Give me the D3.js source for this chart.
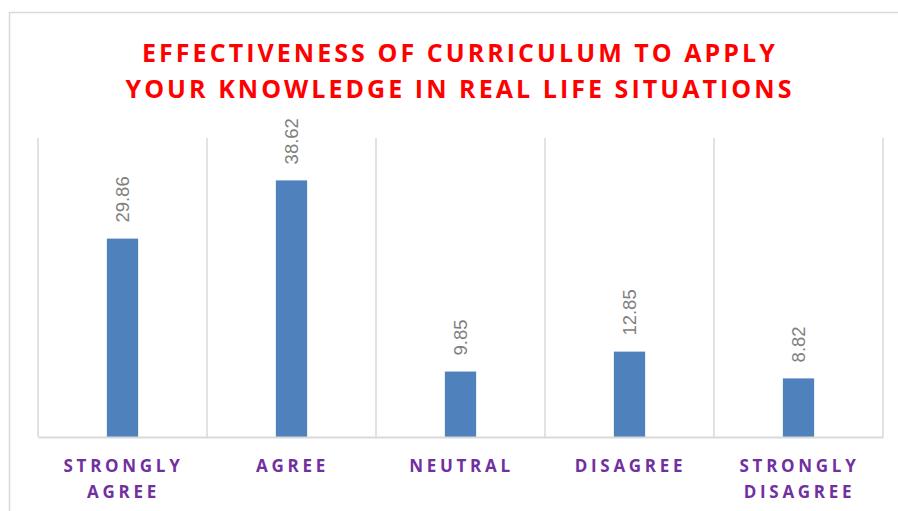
<!DOCTYPE html>
<html>
<head>
<meta charset="utf-8">
<script src="https://cdn.jsdelivr.net/npm/d3@7"></script>
<style>
  html, body { margin: 0; padding: 0; background: #fff; }
  svg { display: block; }
</style>
</head>
<body>
<svg id="chart" width="898" height="511"></svg>
<script>
// Survey responses (percent)
const categories = ["STRONGLY AGREE", "AGREE", "NEUTRAL", "DISAGREE", "STRONGLY DISAGREE"];
const categoryLines = [["STRONGLY", "AGREE"], ["AGREE"], ["NEUTRAL"], ["DISAGREE"], ["STRONGLY", "DISAGREE"]];
const values = [29.86, 38.62, 9.85, 12.85, 8.82];
const valueLabels = ["29.86", "38.62", "9.85", "12.85", "8.82"];
const titleLines = ["EFFECTIVENESS OF CURRICULUM TO APPLY", "YOUR KNOWLEDGE IN REAL LIFE SITUATIONS"];

const svg = d3.select("#chart");
const W = 898, H = 511;
const plot = { left: 38, right: 883, top: 138, bottom: 437 };

// Chart frame
svg.append("path")
  .attr("d", `M9.5,${H + 5} L9.5,12.5 L${W + 5},12.5`)
  .attr("fill", "none")
  .attr("stroke", "#d9d9d9")
  .attr("stroke-width", 1.5);

const x = d3.scaleBand().domain(categories).range([plot.left, plot.right]).paddingInner(0).paddingOuter(0);
const y = d3.scaleLinear().domain([0, 45]).range([plot.bottom, plot.top]);
const barW = x.bandwidth() * 0.185;

// Vertical gridlines at category boundaries
const bounds = categories.map(c => x(c)).concat([x(categories[categories.length - 1]) + x.bandwidth()]);
svg.append("g").selectAll("line").data(bounds).join("line")
  .attr("x1", d => d).attr("x2", d => d)
  .attr("y1", plot.top).attr("y2", plot.bottom)
  .attr("stroke", "#d9d9d9").attr("stroke-width", 1.5);

// Bars
svg.append("g").selectAll("rect").data(values).join("rect")
  .attr("x", (d, i) => x(categories[i]) + x.bandwidth() / 2 - barW / 2)
  .attr("width", barW)
  .attr("y", d => y(d))
  .attr("height", d => y(0) - y(d))
  .attr("fill", "#4f81bd");

// Category axis line
const xAxis = svg.append("g").attr("transform", `translate(0,${plot.bottom})`)
  .call(d3.axisBottom(x).tickSize(0).tickFormat(""));
xAxis.select(".domain").attr("stroke", "#d9d9d9").attr("stroke-width", 2);

// Value labels, rotated
svg.append("g").selectAll("text").data(values).join("text")
  .attr("transform", (d, i) => {
    const cx = x(categories[i]) + x.bandwidth() / 2 + 6.5;
    return `translate(${cx},${y(d) - 16}) rotate(-90)`;
  })
  .attr("text-anchor", "start")
  .attr("font-family", "'Liberation Sans', Arial, sans-serif")
  .attr("font-size", 18.5)
  .attr("fill", "#7f7f7f")
  .text((d, i) => valueLabels[i]);

// Category labels
const catG = svg.append("g");
categoryLines.forEach((lines, i) => {
  const cx = x(categories[i]) + x.bandwidth() / 2;
  lines.forEach((ln, j) => {
    catG.append("text")
      .attr("x", cx + 1)
      .attr("y", 472 + j * 26)
      .attr("text-anchor", "middle")
      .attr("font-family", "'Open Sans', sans-serif")
      .attr("font-weight", 700)
      .attr("font-size", 17)
      .attr("letter-spacing", 3.7)
      .attr("fill", "#7030a0")
      .text(ln);
  });
});

// Title
titleLines.forEach((ln, j) => {
  svg.append("text")
    .attr("x", 460)
    .attr("y", 62 + j * 36)
    .attr("text-anchor", "middle")
    .attr("font-family", "'Open Sans', sans-serif")
    .attr("font-weight", 700)
    .attr("font-size", 25)
    .attr("letter-spacing", 3.05)
    .attr("fill", "#ff0000")
    .text(ln);
});
</script>
</body>
</html>
